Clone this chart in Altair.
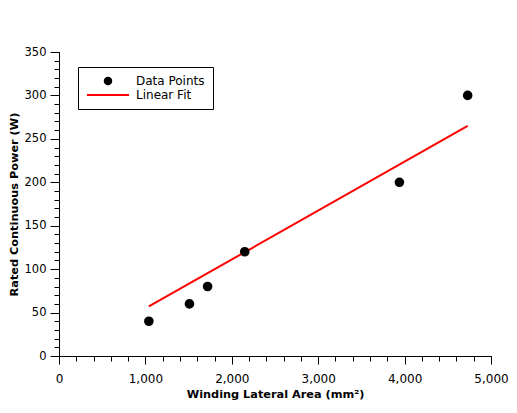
import altair as alt
import pandas as pd

# data
area = [1040, 1510, 1720, 2150, 3940, 4730]
power = [40, 60, 80, 120, 200, 300]
fit_area = [1040, 4730]
fit_power = [57, 265]
series_names = ["Data Points", "Linear Fit"]
x_major = [0, 1000, 2000, 3000, 4000, 5000]
x_minor = list(range(0, 5001, 200))
y_major = [0, 50, 100, 150, 200, 250, 300, 350]
y_minor = list(range(0, 351, 10))

pts = pd.DataFrame({"area": area, "power": power, "series": series_names[0]})
fit = pd.DataFrame({"area": fit_area, "power": fit_power, "series": series_names[1]})

FONT = "DejaVu Sans"
xscale = alt.Scale(domain=[0, 5000], nice=False)
yscale = alt.Scale(domain=[0, 350], nice=False)
cscale = alt.Scale(domain=series_names, range=["black", "red"])
sscale = alt.Scale(domain=series_names, range=["circle", "M-6.5,0H6.5"])

legend = alt.Legend(
    title=None, orient="none", legendX=19, legendY=15,
    strokeColor="black", fillColor="white", padding=8, rowPadding=0,
    symbolSize=42, symbolStrokeWidth=2, symbolOpacity=1,
    symbolOffset=16, labelOffset=22,
    labelFont=FONT, labelFontSize=12, labelColor="black", cornerRadius=0,
)

x_axis_major = alt.Axis(
    orient="bottom", values=x_major, format=",d", grid=False, labelFlush=False,
    tickSize=8, tickColor="black", domainColor="black",
    labelFont=FONT, labelFontSize=12, labelColor="black", labelPadding=9,
    title="Winding Lateral Area (mm²)", titleFont=FONT, titleFontSize=11.3,
    titleFontWeight="bold", titleColor="black", titlePadding=4,
)
y_axis_major = alt.Axis(
    orient="left", values=y_major, grid=False, labelFlush=False,
    tickSize=9, tickColor="black", domainColor="black",
    labelFont=FONT, labelFontSize=11.5, labelColor="black", labelPadding=4,
    title="Rated Continuous Power (W)", titleFont=FONT, titleFontSize=11.3,
    titleFontWeight="bold", titleColor="black", titlePadding=5,
)
x_axis_minor = alt.Axis(orient="bottom", values=x_minor, grid=False, labels=False,
                        domain=False, tickSize=5, tickColor="black")
y_axis_minor = alt.Axis(orient="left", values=y_minor, grid=False, labels=False,
                        domain=False, tickSize=5, tickColor="black")

points = alt.Chart(pts).mark_point(filled=True, size=58, opacity=1).encode(
    x=alt.X("area:Q", scale=xscale, axis=x_axis_major),
    y=alt.Y("power:Q", scale=yscale, axis=y_axis_major),
    fill=alt.Fill("series:N", scale=cscale, legend=legend),
    stroke=alt.Stroke("series:N", scale=cscale, legend=legend),
    shape=alt.Shape("series:N", scale=sscale, legend=legend),
)

line = alt.Chart(fit).mark_line(strokeWidth=2).encode(
    x=alt.X("area:Q", scale=xscale, axis=x_axis_minor, title=None),
    y=alt.Y("power:Q", scale=yscale, axis=y_axis_minor, title=None),
    stroke=alt.Stroke("series:N", scale=cscale, legend=legend),
)

chart = alt.layer(line, points).resolve_axis(x="independent", y="independent").properties(
    width=432, height=304,
    autosize=alt.AutoSizeParams(type="none"),
    padding={"left": 51, "top": 44, "right": 18, "bottom": 45},
).configure_view(stroke=None)

chart.save("out.html", embed_options={"renderer": "svg", "actions": False})
